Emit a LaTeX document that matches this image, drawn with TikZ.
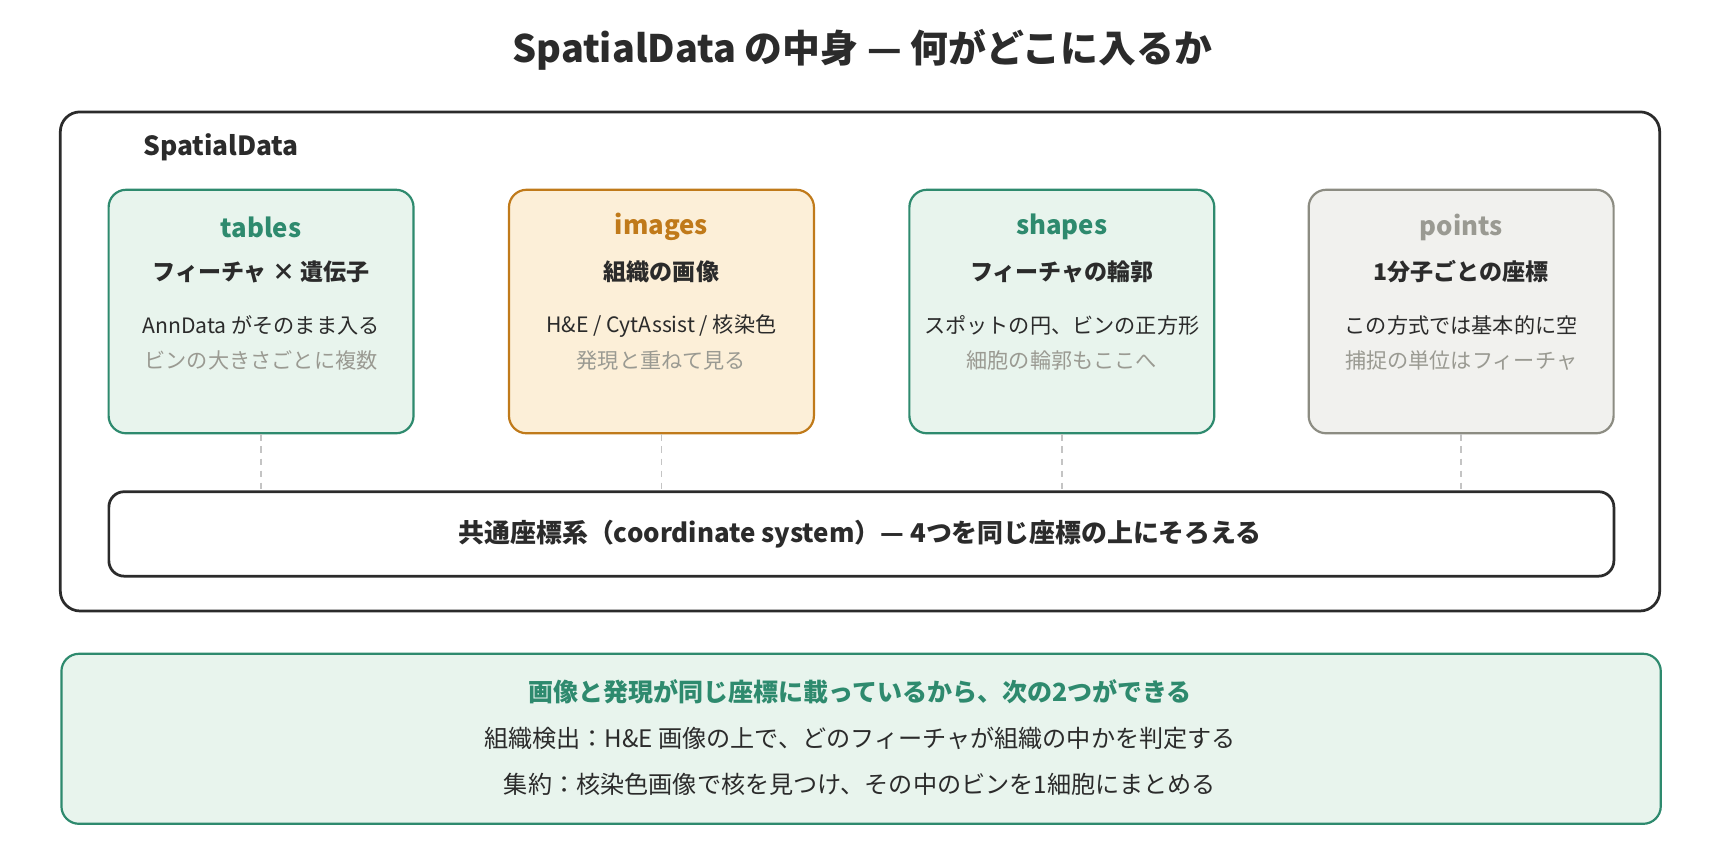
\documentclass[tikz,border=0pt]{standalone}
\usepackage{fontspec}
\setmainfont{Noto Sans CJK JP}
\definecolor{ink}{HTML}{2B2B2B}
\definecolor{grn}{HTML}{2E8A6E}
\definecolor{grnfill}{HTML}{E8F4ED}
\definecolor{org}{HTML}{C07A1A}
\definecolor{orgfill}{HTML}{FCEFD8}
\definecolor{gry}{HTML}{8C8C82}
\definecolor{gryfill}{HTML}{F1F1EE}
\definecolor{mute}{HTML}{9A9A92}
\definecolor{dash}{HTML}{C4C4C4}
\begin{document}
\begin{tikzpicture}[x=1pt,y=-1pt,
  card/.style={draw, line width=2pt, rounded corners=16pt, minimum width=278pt, minimum height=222pt, anchor=north west},
  ttl/.style={font=\fontsize{23.5}{27}\selectfont\bfseries, anchor=center},
  sub/.style={font=\fontsize{21}{25}\selectfont\bfseries, text=ink, anchor=center},
  ln/.style={font=\fontsize{19.3}{23}\selectfont, text=ink, anchor=center},
  lnm/.style={font=\fontsize{19.3}{23}\selectfont, text=mute, anchor=center},
  conn/.style={draw=dash, line width=1.6pt, dash pattern=on 6pt off 5pt}]
\useasboundingbox (0,0) rectangle (1568,784);
\fill[white] (0,0) rectangle (1568,784);
\node[font=\fontsize{34.5}{40}\selectfont\bfseries, text=ink] (title) at (786,45) {SpatialData の中身 — 何がどこに入るか};
% outer frame
\draw[ink, line width=2.5pt, rounded corners=18pt] (55,102) rectangle (1513,557);
\node[font=\fontsize{24}{28}\selectfont\bfseries, text=ink, anchor=west] (sdlabel) at (127,134) {SpatialData};
% cards
\node[card, draw=grn, fill=grnfill] (tables) at (98,172) {};
\node[card, draw=org, fill=orgfill] (images) at (463,172) {};
\node[card, draw=grn, fill=grnfill] (shapes) at (828,172) {};
\node[card, draw=gry, fill=gryfill] (points) at (1192,172) {};
% card texts
\foreach \b/\c/\t/\s/\la/\lb in {
  tables/grn/tables/{フィーチャ × 遺伝子}/{AnnData がそのまま入る}/{ビンの大きさごとに複数},
  images/org/images/{組織の画像}/{H\&E / CytAssist / 核染色}/{発現と重ねて見る},
  shapes/grn/shapes/{フィーチャの輪郭}/{スポットの円、ビンの正方形}/{細胞の輪郭もここへ},
  points/mute/points/{1分子ごとの座標}/{この方式では基本的に空}/{捕捉の単位はフィーチャ}}{
  \path (\b.north) ++(0,35) node[ttl, text=\c] (\b-t) {\t};
  \path (\b.north) ++(0,76) node[sub] (\b-s) {\s};
  \path (\b.north) ++(0,125) node[ln] (\b-a) {\la};
  \path (\b.north) ++(0,157) node[lnm] (\b-b) {\lb};
}
% coordinate system bar
\node[draw=ink, line width=2.5pt, rounded corners=14pt, minimum width=1372pt, minimum height=77pt, anchor=north west] (coord) at (98,447) {};
\node[font=\fontsize{23.6}{28}\selectfont\bfseries, text=ink] (coordtxt) at (784,487) {共通座標系（coordinate system）— 4つを同じ座標の上にそろえる};
% dashed connectors
\foreach \b in {tables,images,shapes,points}{
  \draw[conn] (\b.south) -- (\b.south |- coord.north);
}
% bottom box
\node[draw=grn, fill=grnfill, line width=2pt, rounded corners=16pt, minimum width=1458pt, minimum height=155pt, anchor=north west] (note) at (55,595) {};
\node[font=\fontsize{22.8}{27}\selectfont\bfseries, text=grn] (note1) at (784,631) {画像と発現が同じ座標に載っているから、次の2つができる};
\node[font=\fontsize{22}{26}\selectfont, text=ink] (note2) at (784,673) {組織検出：H\&E 画像の上で、どのフィーチャが組織の中かを判定する};
\node[font=\fontsize{22}{26}\selectfont, text=ink] (note3) at (784,715) {集約：核染色画像で核を見つけ、その中のビンを1細胞にまとめる};
\end{tikzpicture}
\end{document}
